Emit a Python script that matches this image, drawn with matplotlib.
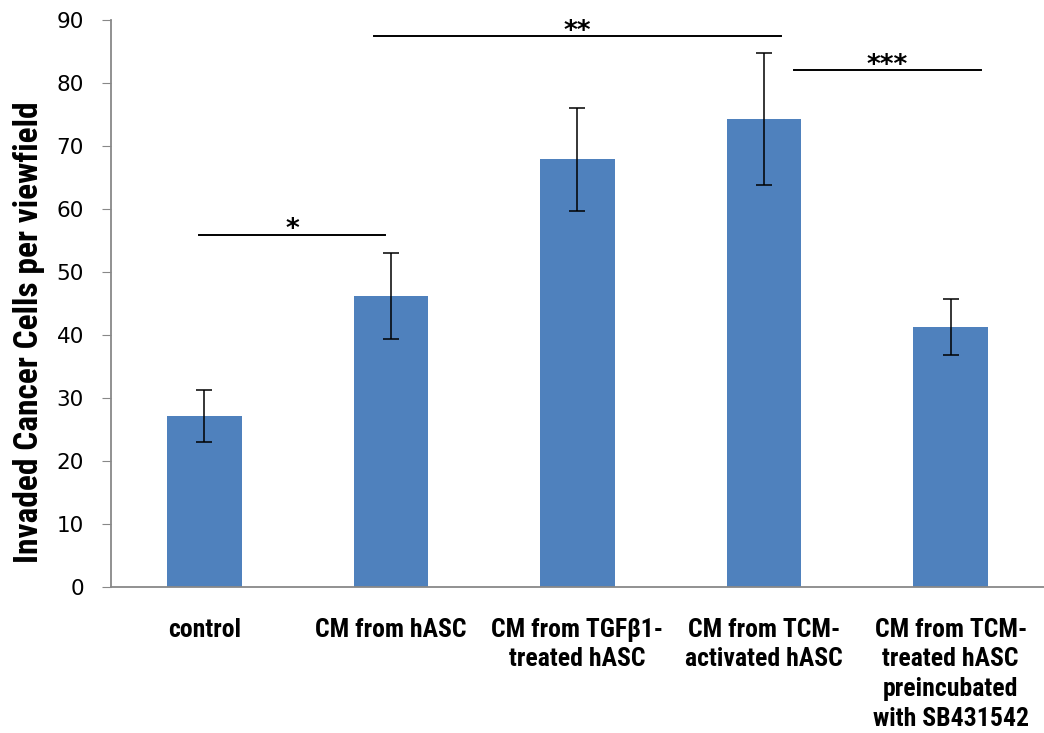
import matplotlib
matplotlib.use('Agg')
import matplotlib.pyplot as plt
from matplotlib import font_manager

# Data
categories = ['control', 'CM from hASC', 'CM from TGFβ1-\ntreated hASC',
              'CM from TCM-\nactivated hASC',
              'CM from TCM-\ntreated hASC\npreincubated\nwith SB431542']
values = [27.1, 46.2, 67.9, 74.3, 41.3]
errors = [4.1, 6.8, 8.2, 10.5, 4.4]

# Significance brackets: (x start, x end, y, label)
sig_x0 = [-0.03, 0.91, 3.16]
sig_x1 = [0.97, 3.09, 4.16]
sig_y = [55.9, 87.4, 82.0]
sig_labels = ['*', '**', '***']

names = {f.name for f in font_manager.fontManager.ttflist}
label_font = 'Liberation Sans Narrow' if 'Liberation Sans Narrow' in names else 'Roboto Condensed' if 'Roboto Condensed' in names else 'Liberation Sans'

fig = plt.figure(figsize=(10.44, 7.33), dpi=100)
ax = fig.add_axes([0.1063, 0.1992, 0.8937, 0.7735])

bar_color = '#4f81bd'
ax.bar(range(len(values)), values, width=0.4, color=bar_color,
       yerr=errors, capsize=6, error_kw=dict(ecolor='black', elinewidth=1.1, capthick=1.1))

for x0, x1, y, lab in zip(sig_x0, sig_x1, sig_y, sig_labels):
    ax.plot([x0, x1], [y, y], color='black', linewidth=1.4)
    ax.text((x0 + x1) / 2, y - 1.3, lab, ha='center', va='bottom',
            fontsize=19, fontweight='bold', family='DejaVu Sans')

ax.set_xlim(-0.5, 4.5)
ax.set_ylim(0, 90)
ax.set_yticks(range(0, 91, 10))
ax.set_xticks(range(len(categories)))
ax.set_xticklabels(categories, fontsize=18.5, fontweight='bold', family=label_font,
                   linespacing=1.31, va='top')
ax.tick_params(axis='x', length=0, pad=22)
ax.tick_params(axis='y', length=6.5, color='#888888', labelsize=15.5, pad=13)
for lab in ax.get_yticklabels():
    lab.set_family('DejaVu Sans')

ax.spines['top'].set_visible(False)
ax.spines['right'].set_visible(False)
ax.spines['left'].set_color('#888888')
ax.spines['bottom'].set_color('#888888')
ax.spines['left'].set_linewidth(1.3)
ax.spines['bottom'].set_linewidth(1.3)

ax.set_ylabel('Invaded Cancer Cells per viewfield', fontsize=24, fontweight='bold',
              family=label_font, labelpad=8)
ax.yaxis.label.set_y(0.45)

fig.savefig('out.png', dpi=100)
